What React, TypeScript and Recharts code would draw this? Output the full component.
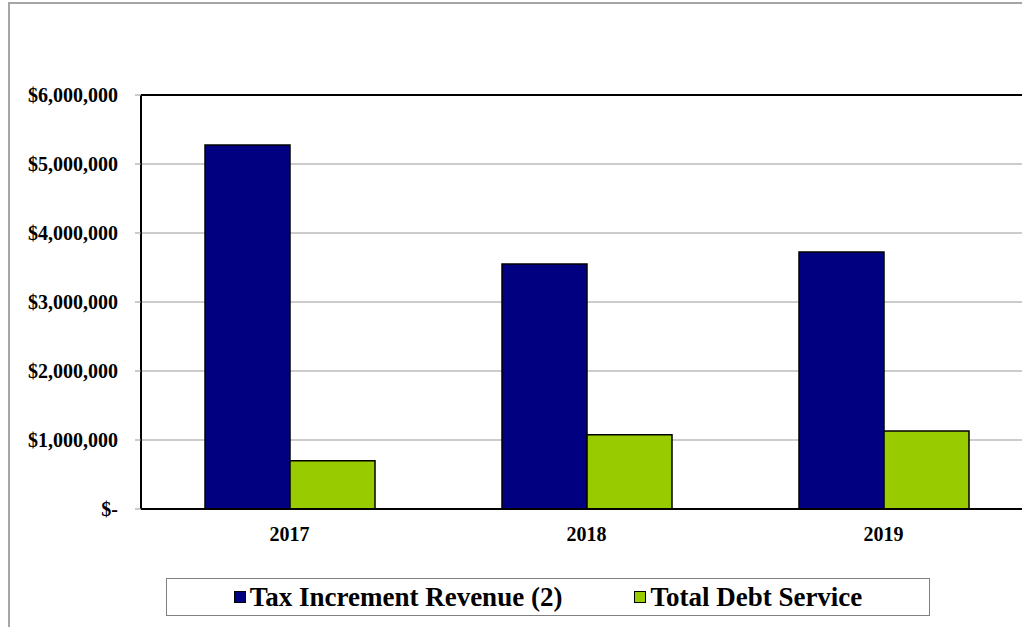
import React from 'react';
import { BarChart, Bar, XAxis, YAxis, CartesianGrid, ReferenceLine } from 'recharts';

const years = ['2017', '2018', '2019'];
const taxIncrementRevenue = [5275000, 3550000, 3725000];
const totalDebtService = [700000, 1075000, 1130000];
const yTicks = [0, 1000000, 2000000, 3000000, 4000000, 5000000, 6000000];

const seriesNames = ['Tax Increment Revenue (2)', 'Total Debt Service'];
const seriesColors = ['#000080', '#99cc00'];

const data = years.map((year, i) => ({
  year,
  tax: taxIncrementRevenue[i],
  debt: totalDebtService[i],
}));

// boundaries between categories, for the gray tick marks under the axis
const boundaryTicks = Array.from({ length: years.length + 1 }, (_, i) => i);

const serif = "'Liberation Serif', 'Times New Roman', Times, serif";

const formatMoney = (v: number) => (v === 0 ? '$-' : '$' + v.toLocaleString('en-US'));

const App: React.FC = () => {
  return (
    <div style={{ position: 'absolute', left: 0, top: 0, width: 1022, height: 627, overflow: 'hidden', background: '#fff' }}>
      <div style={{ position: 'absolute', left: 8, top: 2, width: 2000, height: 2000, borderLeft: '2px solid #a6a6a6', borderTop: '2px solid #a6a6a6' }} />
      <div style={{ position: 'absolute', left: 0, top: 0 }}>
        <BarChart width={1040} height={560} data={data} margin={{ top: 95, right: 8, left: 0, bottom: 0 }} barGap={0} barSize={85}>
          <CartesianGrid vertical={false} stroke="#999999" strokeWidth={1} />
          <XAxis
            xAxisId="bounds"
            type="number"
            domain={[0, years.length]}
            ticks={boundaryTicks}
            allowDataOverflow
            height={0}
            axisLine={false}
            tickLine={{ stroke: '#999999', strokeWidth: 1 }}
            tickSize={6}
            tickFormatter={() => ''}
          />
          <XAxis
            dataKey="year"
            height={51}
            axisLine={{ stroke: '#000', strokeWidth: 2 }}
            tickLine={false}
            tickMargin={12}
            tick={{ fill: '#000', fontSize: 20, fontWeight: 'bold', fontFamily: serif }}
          />
          <YAxis
            width={141}
            domain={[0, yTicks[yTicks.length - 1]]}
            ticks={yTicks}
            tickFormatter={formatMoney}
            axisLine={{ stroke: '#000', strokeWidth: 2 }}
            tickLine={{ stroke: '#999999', strokeWidth: 1 }}
            tickSize={6}
            tickMargin={17}
            tick={{ fill: '#000', fontSize: 20, fontWeight: 'bold', fontFamily: serif }}
          />
          <ReferenceLine y={yTicks[yTicks.length - 1]} stroke="#000" strokeWidth={2} />
          <Bar dataKey="tax" name={seriesNames[0]} fill={seriesColors[0]} stroke="#000" strokeWidth={1.5} isAnimationActive={false} />
          <Bar dataKey="debt" name={seriesNames[1]} fill={seriesColors[1]} stroke="#000" strokeWidth={1.5} isAnimationActive={false} />
        </BarChart>
      </div>
      <div
        style={{
          position: 'absolute',
          left: 166,
          top: 578,
          width: 762,
          height: 36,
          border: '1px solid #808080',
          display: 'flex',
          alignItems: 'center',
          justifyContent: 'center',
          gap: 72,
          fontFamily: serif,
          fontSize: 27,
          fontWeight: 'bold',
          color: '#000',
        }}
      >
        {seriesNames.map((name, i) => (
          <div key={name} style={{ display: 'flex', alignItems: 'center', gap: 4 }}>
            <span style={{ display: 'inline-block', width: 10, height: 10, background: seriesColors[i], border: '1.5px solid #000' }} />
            <span>{name}</span>
          </div>
        ))}
      </div>
    </div>
  );
};

export default App;
